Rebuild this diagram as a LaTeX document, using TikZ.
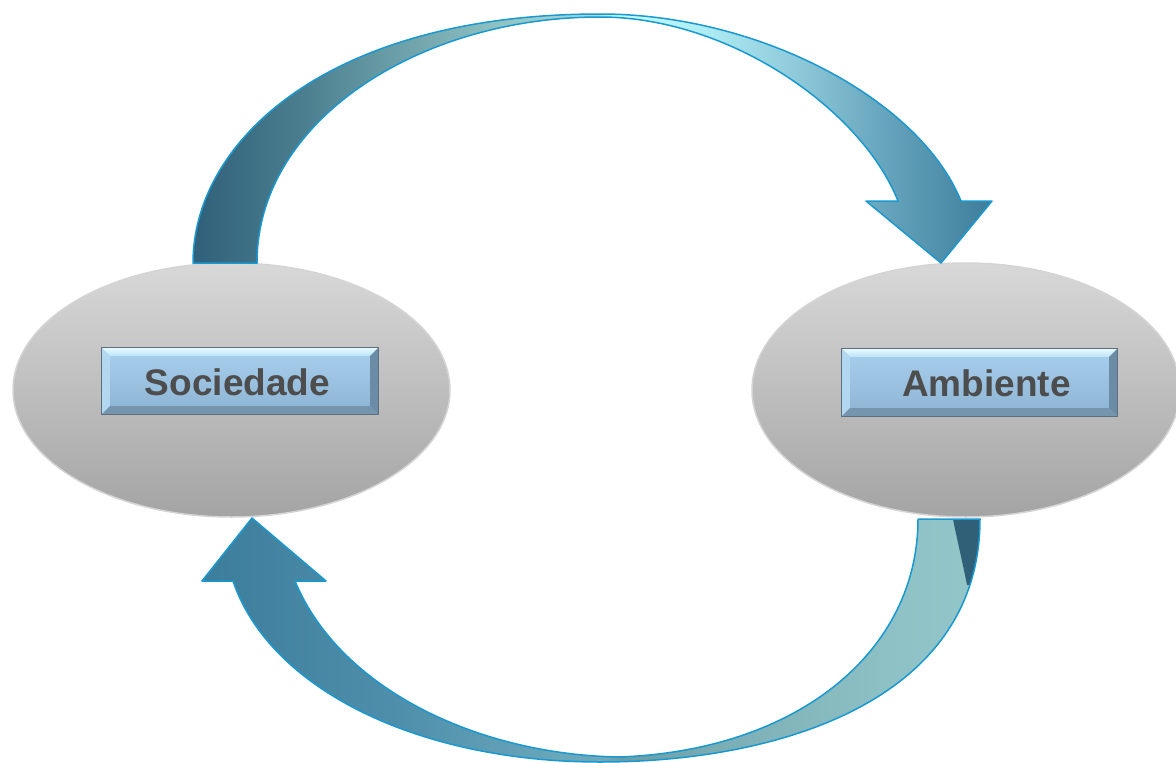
\documentclass[tikz,border=0pt]{standalone}
\usepackage{fontspec}
\setmainfont{Liberation Sans}
\usetikzlibrary{shapes.geometric}

\definecolor{outl}{HTML}{1A98D0}
\definecolor{ta1}{HTML}{30607A}
\definecolor{ta2}{HTML}{4A7E8E}
\definecolor{ta3}{HTML}{8FC2C3}
\definecolor{ta4}{HTML}{A8DCDC}
\definecolor{ta5}{HTML}{BFFCFF}
\definecolor{ta6}{HTML}{B0EEF5}
\definecolor{ta7}{HTML}{8CC8D8}
\definecolor{ta8}{HTML}{68A6BE}
\definecolor{ta9}{HTML}{3E7D9A}
\definecolor{ba1}{HTML}{3C7D9B}
\definecolor{ba2}{HTML}{4F8FAB}
\definecolor{ba3}{HTML}{69A7BA}
\definecolor{ba4}{HTML}{70A9B8}
\definecolor{ba5}{HTML}{6B9DA6}
\definecolor{ba6}{HTML}{7EB2B8}
\definecolor{ba7}{HTML}{8EC2C6}
\definecolor{ba8}{HTML}{93C6C9}
\definecolor{sliver}{HTML}{2F6078}
\definecolor{elltop}{HTML}{D8D8D8}
\definecolor{ellbot}{HTML}{A4A4A4}
\definecolor{ellrim}{HTML}{D4D4D4}
\definecolor{facetop}{HTML}{A8D0EE}
\definecolor{facebot}{HTML}{8DB3D3}
\definecolor{bevtopA}{HTML}{E6FBFF}
\definecolor{bevtopB}{HTML}{BCE3F8}
\definecolor{bevleft}{HTML}{B2D8F1}
\definecolor{bevright}{HTML}{6A8CA7}
\definecolor{bevbot}{HTML}{7595AE}
\definecolor{boxline}{HTML}{5E6E7C}
\definecolor{txt}{HTML}{4D4D4D}

\pgfdeclarehorizontalshading{topgrad}{100bp}{color(0bp)=(ta1); color(25bp)=(ta1); color(31.7bp)=(ta2); color(44.2bp)=(ta3); color(50.2bp)=(ta4); color(51.7bp)=(ta5); color(56.7bp)=(ta6); color(63bp)=(ta7); color(68bp)=(ta8); color(75bp)=(ta9); color(100bp)=(ta9)}
\pgfdeclarehorizontalshading{botgrad}{100bp}{color(0bp)=(ba1); color(25bp)=(ba1); color(37.7bp)=(ba2); color(48bp)=(ba3); color(50.9bp)=(ba4); color(51.9bp)=(ba5); color(60.2bp)=(ba6); color(69.9bp)=(ba7); color(75bp)=(ba8); color(100bp)=(ba8)}

\tikzset{
  ellnode/.style={ellipse, inner sep=0pt, top color=elltop, bottom color=ellbot, draw=ellrim, line width=1.5pt},
  boxnode/.style={rectangle, inner sep=0pt, top color=facetop, bottom color=facebot},
  outline/.style={draw=outl, line width=1.5pt, line join=round},
  lbl/.style={anchor=base, text=txt, font=\fontsize{37}{44}\selectfont\bfseries, inner sep=0pt}
}

\newcommand\bevbox[5]{%
  \node[boxnode, minimum width=#4pt, minimum height=#5pt] (#1) at (#2,#3) {};
  \shade[top color=bevtopA, bottom color=bevtopB] (#1.north west) -- (#1.north east) -- ([xshift=-8pt,yshift=-8pt]#1.north east) -- ([xshift=8pt,yshift=-8pt]#1.north west) -- cycle;
  \fill[bevleft] (#1.north west) -- ([xshift=8pt,yshift=-8pt]#1.north west) -- ([xshift=8pt,yshift=8pt]#1.south west) -- (#1.south west) -- cycle;
  \fill[bevright] (#1.north east) -- ([xshift=-8pt,yshift=-8pt]#1.north east) -- ([xshift=-8pt,yshift=8pt]#1.south east) -- (#1.south east) -- cycle;
  \fill[bevbot] (#1.south west) -- ([xshift=8pt,yshift=8pt]#1.south west) -- ([xshift=-8pt,yshift=8pt]#1.south east) -- (#1.south east) -- cycle;
  \draw[boxline, line width=1pt] (#1.north west) rectangle (#1.south east);
}

\def\toppath{(193,263) .. controls (193,140) and (330,14) .. (600,14) .. controls (760,14) and (920,100) .. (961,201) -- (992,201) -- (941,263) -- (866,201) -- (898,201) .. controls (862,110) and (730,17) .. (600,17) .. controls (420,17) and (257,120) .. (257,263) -- cycle}
\def\botpath{(918,519) -- (980,519) .. controls (980,700) and (780,762) .. (600,762) .. controls (420,762) and (270,690) .. (233,581) -- (202,581) -- (252,518) -- (326,581) -- (295,581) .. controls (340,690) and (480,755) .. (620,757) .. controls (800,750) and (918,650) .. (918,519) -- cycle}

\begin{document}
\begin{tikzpicture}[x=1pt,y=-1pt]
\useasboundingbox (0,0) rectangle (1176,763);
\fill[white] (0,0) rectangle (1176,763);

% ellipses
\node[ellnode, minimum width=437pt, minimum height=254pt] (soc) at (231.5,390) {};
\node[ellnode, minimum width=428pt, minimum height=254pt] (amb) at (966,390) {};

% top arrow
\shade[shading=topgrad] \toppath;
\draw[outline] \toppath;

% bottom arrow
\shade[shading=botgrad] \botpath;
\begin{scope}
  \clip \botpath;
  \fill[sliver] (953,519) -- (995,519) -- (995,585) -- (967,585) .. controls (961,555) and (956,535) .. (953,519) -- cycle;
\end{scope}
\draw[outline] \botpath;

% boxes
\bevbox{socbox}{240}{381}{276}{66}
\bevbox{ambbox}{979.5}{382.5}{275}{67}
\node[lbl] (soctext) at (237.5,395) {Sociedade};
\node[lbl] (ambtext) at (986.5,396) {Ambiente};
\end{tikzpicture}
\end{document}
